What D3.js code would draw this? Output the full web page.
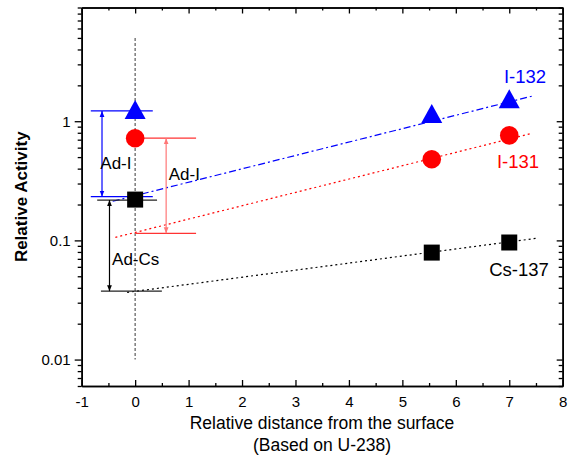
<!DOCTYPE html>
<html>
<head>
<meta charset="utf-8">
<script src="https://cdn.jsdelivr.net/npm/d3@7"></script>
<style>
  body { margin: 0; background: #fff; }
  svg text { font-family: "Liberation Sans", Arial, sans-serif; }
</style>
</head>
<body>
<div id="chart"></div>
<script>
// Data
const xPos = [0, 5.55, 7];
const i132 = [1.22, 1.13, 1.5];
const i131 = [0.72, 0.48, 0.76];
const cs137 = [0.22, 0.079, 0.096];

// linear (log) fit lines: [x, value] endpoints
const fitI132 = [[-0.42, 0.213], [7.42, 1.62]];
const fitI131 = [[-0.37, 0.106], [7.42, 0.79]];
const fitCs137 = [[-0.15, 0.0366], [7.5, 0.104]];

// brackets: top/bottom levels with their x extents, arrow x
const brackets = [
  { color: '#0000ff', arrow: '#0000ff', top: 1.22, topX: [-0.83, 0.33], bot: 0.233, botX: [-0.83, 0.33], ax: -0.62, label: 'Ad-I', lx: -0.36, ly: 0.44 },
  { color: '#ff3333', arrow: '#ff7777', top: 0.72, topX: [0.15, 1.14], bot: 0.1146, botX: [0, 1.14], ax: 0.58, label: 'Ad-I', lx: 0.92, ly: 0.355 },
  { color: '#222222', arrow: '#000000', top: 0.218, topX: [-0.71, 0.41], bot: 0.0375, botX: [-0.64, 0.5], ax: -0.48, label: 'Ad-Cs', lx: 0.01, ly: 0.069 }
];

const xTicks = [-1, 0, 1, 2, 3, 4, 5, 6, 7, 8];
const yTicks = [0.01, 0.1, 1];

const width = 572, height = 457;
const svg = d3.select('#chart').append('svg')
  .attr('width', width).attr('height', height);

const x = d3.scaleLinear().domain([-1, 8]).range([81.7, 562.7]);
const y = d3.scaleLog().domain([0.006, 9]).range([386, 7.5]);

const xMinor = d3.range(-0.5, 8, 1);
const yMinor = y.ticks().filter(v => !yTicks.some(t => Math.abs(t - v) < 1e-9));

const FONT = '"Liberation Sans", Arial, sans-serif';

// Axes
const g = svg.append('g');

// bottom: inward ticks
g.append('g').attr('transform', `translate(0,${y.range()[0]})`)
  .call(d3.axisBottom(x).tickValues(xTicks).tickSizeInner(-6).tickSizeOuter(0).tickPadding(10).tickFormat(d => String(d)))
  .call(a => a.selectAll('text').attr('font-size', 15).attr('font-family', FONT).attr('fill', '#000'));
g.append('g').attr('transform', `translate(0,${y.range()[0]})`)
  .call(d3.axisBottom(x).tickValues(xMinor).tickSizeInner(-3).tickSizeOuter(0).tickFormat(''));

// top: inward ticks
g.append('g').attr('transform', `translate(0,${y.range()[1]})`)
  .call(d3.axisTop(x).tickValues(xTicks).tickSizeInner(-6).tickSizeOuter(0).tickFormat(''));
g.append('g').attr('transform', `translate(0,${y.range()[1]})`)
  .call(d3.axisTop(x).tickValues(xMinor).tickSizeInner(-3).tickSizeOuter(0).tickFormat(''));

// left: outward ticks
g.append('g').attr('transform', `translate(${x.range()[0]},0)`)
  .call(d3.axisLeft(y).tickValues(yTicks).tickSizeInner(7).tickSizeOuter(0).tickPadding(4).tickFormat(d => String(d)))
  .call(a => a.selectAll('text').attr('font-size', 15).attr('font-family', FONT).attr('fill', '#000'));
g.append('g').attr('transform', `translate(${x.range()[0]},0)`)
  .call(d3.axisLeft(y).tickValues(yMinor).tickSizeInner(4).tickSizeOuter(0).tickFormat(''));

// right: inward ticks
g.append('g').attr('transform', `translate(${x.range()[1]},0)`)
  .call(d3.axisRight(y).tickValues(yTicks).tickSizeInner(-6).tickSizeOuter(0).tickFormat(''));
g.append('g').attr('transform', `translate(${x.range()[1]},0)`)
  .call(d3.axisRight(y).tickValues(yMinor).tickSizeInner(-4).tickSizeOuter(0).tickFormat(''));

g.selectAll('.domain').attr('stroke', '#000').attr('stroke-width', 1.6);
g.selectAll('.tick line').attr('stroke', '#000').attr('stroke-width', 1.3);

// Axis titles
svg.append('text')
  .attr('transform', `translate(27,${(y.range()[0] + y.range()[1]) / 2}) rotate(-90)`)
  .attr('text-anchor', 'middle').attr('font-size', 17).attr('font-weight', 'bold')
  .text('Relative Activity');
svg.append('text').attr('x', 322).attr('y', 429)
  .attr('text-anchor', 'middle').attr('font-size', 17.5)
  .text('Relative distance from the surface');
svg.append('text').attr('x', 322).attr('y', 451)
  .attr('text-anchor', 'middle').attr('font-size', 17.5)
  .text('(Based on U-238)');

// Vertical reference line at x = 0
svg.append('line')
  .attr('x1', x(0)).attr('x2', x(0)).attr('y1', y(5)).attr('y2', y(0.01))
  .attr('stroke', '#666').attr('stroke-width', 1.3).attr('stroke-dasharray', '3,2');

// Fit lines
const line = d3.line().x(d => x(d[0])).y(d => y(d[1]));
svg.append('path').datum(fitI132).attr('d', line)
  .attr('fill', 'none').attr('stroke', '#0000ff').attr('stroke-width', 1.2).attr('stroke-dasharray', '7,3,2,3');
svg.append('path').datum(fitI131).attr('d', line)
  .attr('fill', 'none').attr('stroke', '#ff0000').attr('stroke-width', 1.2).attr('stroke-dasharray', '2,3');
svg.append('path').datum(fitCs137).attr('d', line)
  .attr('fill', 'none').attr('stroke', '#000').attr('stroke-width', 1.2).attr('stroke-dasharray', '2,3');

// Arrow markers
const defs = svg.append('defs');
brackets.forEach((b, i) => {
  defs.append('marker').attr('id', 'arr' + i)
    .attr('viewBox', '0 0 10 10').attr('refX', 10).attr('refY', 5)
    .attr('markerWidth', 6).attr('markerHeight', 6).attr('markerUnits', 'userSpaceOnUse')
    .attr('orient', 'auto-start-reverse')
    .append('path').attr('d', 'M0,1 L10,5 L0,9 Z').attr('fill', b.arrow);
});

// Brackets
brackets.forEach((b, i) => {
  const bg = svg.append('g');
  bg.append('line').attr('x1', x(b.topX[0])).attr('x2', x(b.topX[1]))
    .attr('y1', y(b.top)).attr('y2', y(b.top)).attr('stroke', b.color).attr('stroke-width', 1.3);
  bg.append('line').attr('x1', x(b.botX[0])).attr('x2', x(b.botX[1]))
    .attr('y1', y(b.bot)).attr('y2', y(b.bot)).attr('stroke', b.color).attr('stroke-width', 1.3);
  bg.append('line').attr('x1', x(b.ax)).attr('x2', x(b.ax))
    .attr('y1', y(b.top)).attr('y2', y(b.bot)).attr('stroke', b.arrow).attr('stroke-width', 1.2)
    .attr('marker-start', `url(#arr${i})`).attr('marker-end', `url(#arr${i})`);
  bg.append('text').attr('x', x(b.lx)).attr('y', y(b.ly))
    .attr('text-anchor', 'middle').attr('dominant-baseline', 'central')
    .attr('font-size', 17).text(b.label);
});

// Markers
const pts = arr => arr.map((v, i) => [xPos[i], v]);
svg.append('g').selectAll('path').data(pts(i132)).join('path')
  .attr('transform', d => `translate(${x(d[0])},${y(d[1])})`)
  .attr('d', 'M0,-11 L10.5,8 L-10.5,8 Z').attr('fill', '#0000ff');
svg.append('g').selectAll('circle').data(pts(i131)).join('circle')
  .attr('cx', d => x(d[0])).attr('cy', d => y(d[1])).attr('r', 9.3).attr('fill', '#ff0000');
svg.append('g').selectAll('rect').data(pts(cs137)).join('rect')
  .attr('x', d => x(d[0]) - 8).attr('y', d => y(d[1]) - 8)
  .attr('width', 16).attr('height', 16).attr('fill', '#000');

// Series labels
svg.append('text').attr('x', 525).attr('y', 83).attr('text-anchor', 'middle')
  .attr('font-size', 18.5).attr('fill', '#0000ff').text('I-132');
svg.append('text').attr('x', 518).attr('y', 168).attr('text-anchor', 'middle')
  .attr('font-size', 18.5).attr('fill', '#ff0000').text('I-131');
svg.append('text').attr('x', 519).attr('y', 276).attr('text-anchor', 'middle')
  .attr('font-size', 18.5).attr('fill', '#000').text('Cs-137');
</script>
</body>
</html>
